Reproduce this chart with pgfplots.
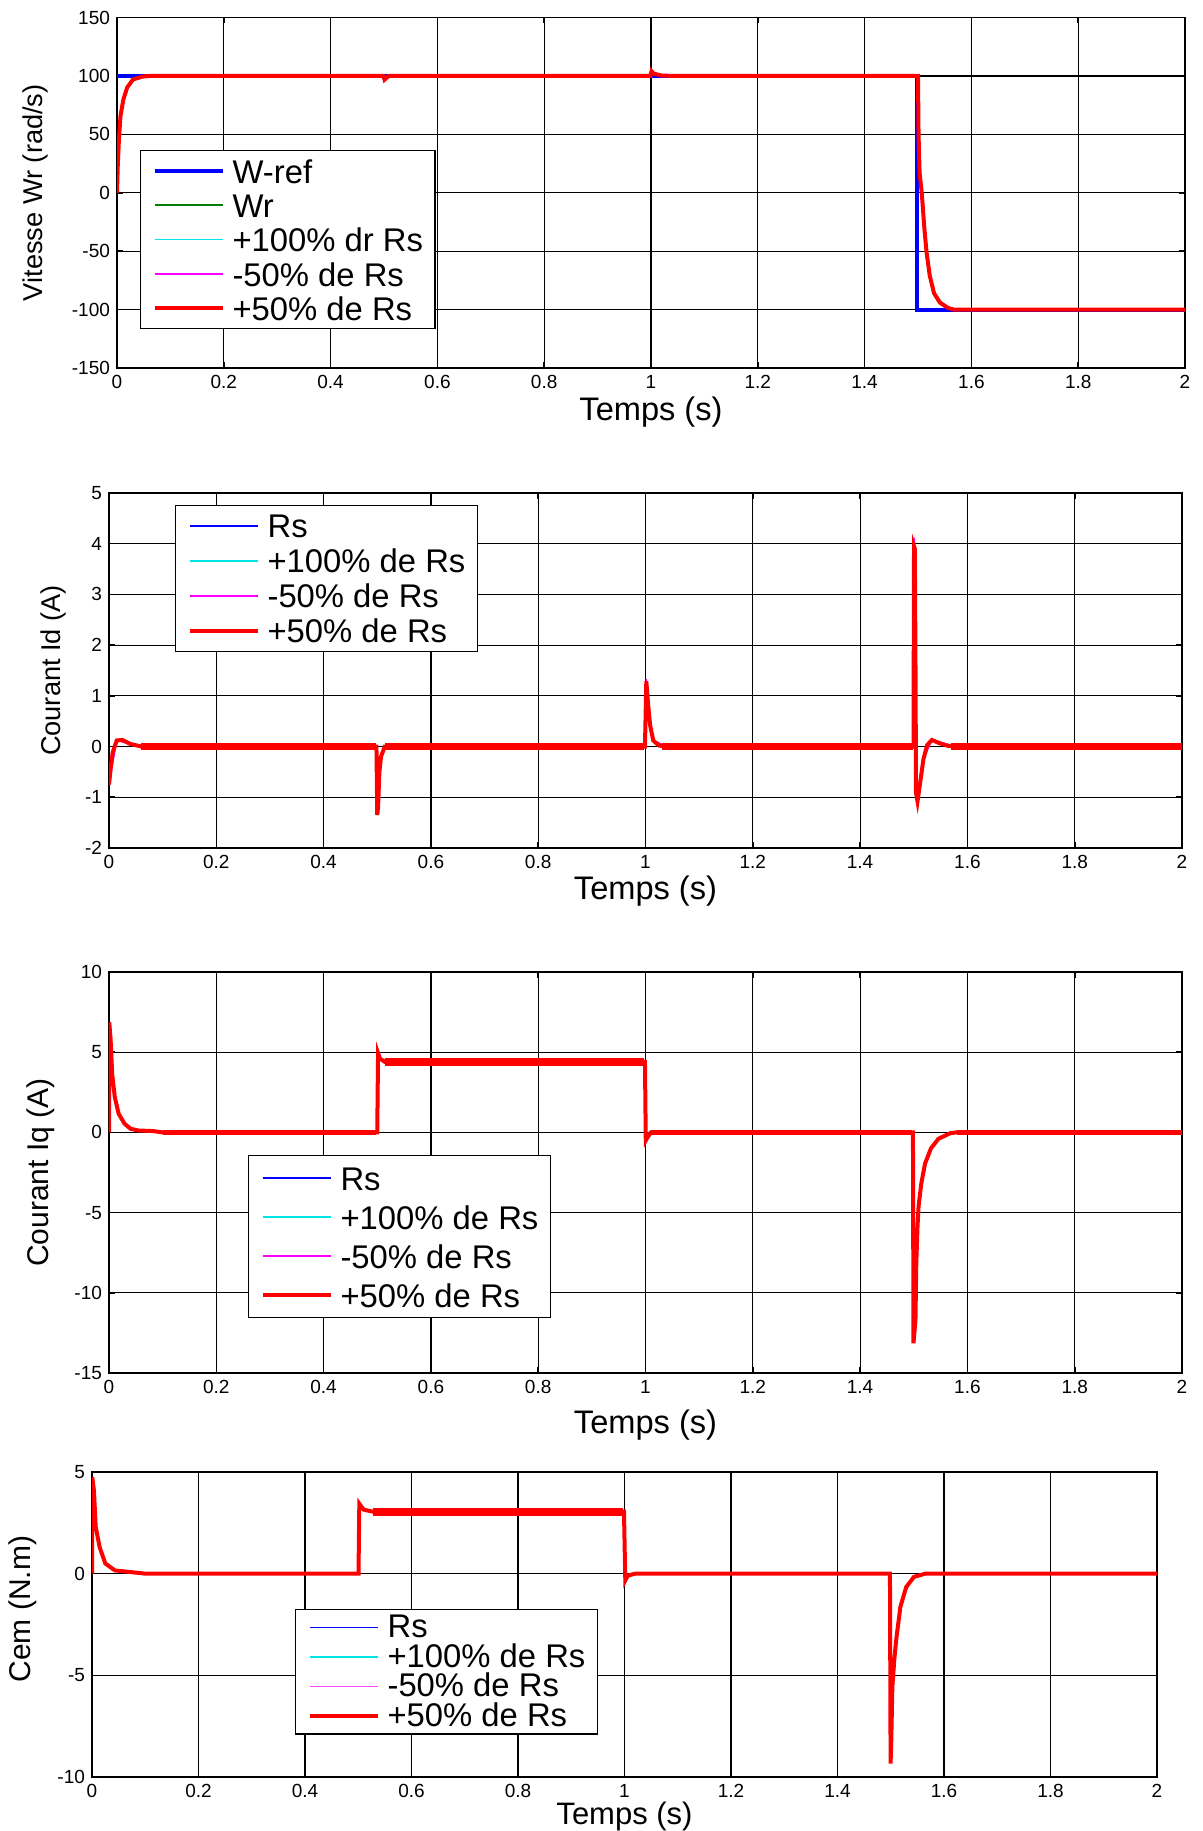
\documentclass[border=0pt]{standalone}
\usepackage{fontspec}
\setmainfont{Liberation Sans}
\usepackage{pgfplots}
\pgfplotsset{compat=1.18}
\definecolor{mblue}{RGB}{0,0,255}
\definecolor{mgreen}{RGB}{0,128,0}
\definecolor{mcyan}{RGB}{0,230,230}
\definecolor{mmag}{RGB}{255,0,255}
\definecolor{mred}{RGB}{255,0,0}

\pgfplotsset{
  matlab/.style={
    scale only axis,
    xmin=0, xmax=2,
    xtick={0,0.2,0.4,0.6,0.8,1,1.2,1.4,1.6,1.8,2},
    grid=major,
    major grid style={black, line width=0.6pt},
    axis line style={black, line width=0.6pt},
    tick align=inside,
    tick pos=both,
    major tick length=3pt,
    tick style={black, line width=0.8pt},
    ticklabel style={font=\fontsize{9.5}{11}\selectfont},
    /pgf/number format/assume math mode=true,
    xlabel={Temps (s)},
    label style={font=\fontsize{16.3}{18}\selectfont},
    legend cell align=left,
    legend image code/.code={\draw[##1] (0pt,0pt) -- (34pt,0pt);},
  },
  mleg/.style n args={4}{
    legend style={at={(axis description cs:#1,#2)}, anchor=north west,
      draw=black, fill=white, line width=0.6pt,
      font=\fontsize{16.4}{18}\selectfont,
      inner xsep=6pt, inner ysep=1.5pt, row sep=0pt, column sep=4pt,
      nodes={inner sep=0pt, text height=#3, text depth=#4}},
  },
}

\begin{document}
\begin{tikzpicture}
\useasboundingbox (0,0) rectangle (601.5pt,915.5pt);

% ---------- vitesse ----------
\begin{axis}[matlab,
  at={(58.5pt,731.5pt)}, anchor=south west,
  width=534pt, height=175.25pt,
  ymin=-150, ymax=150, ytick={-150,-100,...,150},
  ylabel={Vitesse Wr (rad/s)},
  ylabel style={at={(axis description cs:-0.0768,0.5)}, anchor=center, font=\fontsize{13.6}{16}\selectfont},
  xlabel style={at={(axis description cs:0.5,-0.1255)}, anchor=center},
  mleg={0.0215}{0.622}{14.8pt}{2.4pt},
]
\addplot[mblue, line width=2pt] coordinates {
  (0,100) (1.499,100) (1.499,-100) (2,-100)};
\addlegendentry{W-ref}
\addlegendimage{mgreen, line width=0.7pt}
\addlegendentry{Wr}
\addlegendimage{mcyan, line width=0.7pt}
\addlegendentry{+100\% dr Rs}
\addlegendimage{mmag, line width=0.7pt}
\addlegendentry{-50\% de Rs}
\addplot[mred, line width=2pt] coordinates {
  (0,0) (0.0014,22.6) (0.0036,45.6) (0.0065,65.6) (0.012,80) (0.019,90)
  (0.030,97) (0.048,99.4) (0.063,100) (0.499,100) (0.501,96.8) (0.505,98.5)
  (0.51,100) (0.999,100) (1.001,104) (1.005,102) (1.02,100.3) (1.04,100)
  (1.5,100) (1.501,50) (1.503,17) (1.507,0) (1.512,-31) (1.516,-51)
  (1.522,-71) (1.530,-86) (1.541,-94) (1.556,-98.6) (1.567,-100) (2,-100)};
\addlegendentry{+50\% de Rs}
\end{axis}

% ---------- Id ----------
\begin{axis}[matlab,
  at={(54.5pt,491.5pt)}, anchor=south west,
  width=536.5pt, height=177.5pt,
  ymin=-2, ymax=5, ytick={-2,-1,...,5},
  ylabel={Courant Id (A)},
  ylabel style={at={(axis description cs:-0.0522,0.5)}, anchor=center, font=\fontsize{13.6}{16}\selectfont},
  xlabel style={at={(axis description cs:0.5,-0.121)}, anchor=center},
  mleg={0.0615}{0.966}{14.25pt}{3.25pt},
]
\addlegendimage{mblue, line width=0.7pt}
\addlegendentry{Rs}
\addlegendimage{mcyan, line width=0.7pt}
\addlegendentry{+100\% de Rs}
\addplot[mmag, line width=0.7pt] coordinates {
  (0,-0.75) (0.0144,0.12) (0.061,0) (0.4985,0) (0.5,-1.35) (0.507,-0.2)
  (0.514,0) (0.999,0) (1.0015,1.33) (1.005,0.82) (1.0144,0.12) (1.04,0)
  (1.4995,0) (1.5005,4.12) (1.502,3.9) (1.5036,0.95) (1.504,-0.9)
  (1.507,-1.08) (1.518,-0.25) (1.5338,0.13) (1.58,0) (2,0)};
\addlegendentry{-50\% de Rs}
\addplot[mred, line width=3.5pt, forget plot, unbounded coords=jump] coordinates {
  (0.06,0) (0.497,0) (0.5,nan) (0.515,0) (0.998,0) (1,nan)
  (1.03,0) (1.498,0) (1.5,nan) (1.57,0) (2,0)};
\addplot[mred, line width=2pt] coordinates {
  (0,-0.75) (0.0036,-0.38) (0.007,-0.11) (0.0144,0.12) (0.025,0.13)
  (0.04,0.05) (0.061,0) (0.4985,0) (0.5,-1.35) (0.5015,-1.2) (0.504,-0.5)
  (0.507,-0.2) (0.514,0) (0.999,0) (1.0015,1.29) (1.005,0.82) (1.0086,0.42)
  (1.0144,0.12) (1.025,0.02) (1.04,0) (1.4995,0) (1.5005,3.95) (1.502,3.9)
  (1.5036,0.95) (1.504,-0.9) (1.507,-1.08) (1.512,-0.71) (1.518,-0.25)
  (1.525,0.03) (1.5338,0.13) (1.547,0.07) (1.565,0.01) (1.58,0) (2,0)};
\addlegendentry{+50\% de Rs}
\end{axis}

% ---------- Iq ----------
\begin{axis}[matlab,
  at={(54.5pt,229pt)}, anchor=south west,
  width=536.5pt, height=200.5pt,
  ymin=-15, ymax=10, ytick={-15,-10,...,10},
  ylabel={Courant Iq (A)},
  ylabel style={at={(axis description cs:-0.0634,0.5)}, anchor=center, font=\fontsize{15}{17}\selectfont},
  xlabel style={at={(axis description cs:0.5,-0.130)}, anchor=center},
  mleg={0.1295}{0.5436}{16pt}{3.5pt},
]
\addlegendimage{mblue, line width=0.7pt}
\addlegendentry{Rs}
\addlegendimage{mcyan, line width=0.7pt}
\addlegendentry{+100\% de Rs}
\addlegendimage{mmag, line width=0.7pt}
\addlegendentry{-50\% de Rs}
\addplot[mred, line width=2.5pt, forget plot, unbounded coords=jump] coordinates {
  (0.1,0) (0.498,0) (0.5,nan) (1.01,0) (1.497,0) (1.5,nan) (1.58,0) (2,0)};
\addplot[mred, line width=4pt, forget plot] coordinates {
  (0.515,4.4) (0.998,4.4)};
\addplot[mred, line width=2pt] coordinates {
  (0,0) (0.0005,6.87) (0.003,5.8) (0.006,3.6) (0.0108,2.2) (0.018,1.16)
  (0.029,0.54) (0.04,0.23) (0.054,0.12) (0.083,0.08) (0.1,0) (0.5,0)
  (0.5015,4.94) (0.505,4.6) (0.514,4.4) (0.999,4.4) (1.0005,-0.5)
  (1.003,-0.35) (1.01,0) (1.4985,0) (1.4995,-13.15) (1.5032,-11.7)
  (1.5047,-8.2) (1.507,-5.9) (1.509,-4.6) (1.514,-3.2) (1.521,-1.95)
  (1.532,-1.0) (1.546,-0.4) (1.568,-0.05) (1.58,0) (2,0)};
\addlegendentry{+50\% de Rs}
\end{axis}

% ---------- Cem ----------
\begin{axis}[matlab,
  at={(46pt,27pt)}, anchor=south west,
  width=532.5pt, height=152.5pt,
  ymin=-10, ymax=5, ytick={-10,-5,0,5},
  ylabel={Cem (N.m)},
  ylabel style={at={(axis description cs:-0.0648,0.55)}, anchor=center, font=\fontsize{15}{17}\selectfont},
  xlabel style={at={(axis description cs:0.5,-0.128)}, anchor=center, font=\fontsize{15.5}{17}\selectfont},
  mleg={0.1906}{0.551}{12.5pt}{2.3pt},
]
\addlegendimage{mblue, line width=0.7pt}
\addlegendentry{Rs}
\addlegendimage{mcyan, line width=0.7pt}
\addlegendentry{+100\% de Rs}
\addlegendimage{mmag!70, line width=0.9pt}
\addlegendentry{-50\% de Rs}
\addplot[mred, line width=4pt, forget plot] coordinates {
  (0.527,3.05) (0.998,3.05)};
\addplot[mred, line width=2pt] coordinates {
  (0,0) (0.0005,4.75) (0.0036,4.1) (0.007,2.3) (0.0144,1.3) (0.025,0.5)
  (0.043,0.16) (0.072,0.08) (0.1,0) (0.5005,0) (0.502,3.44) (0.51,3.15)
  (0.527,3.05) (0.999,3.05) (1.0015,-0.33) (1.006,-0.1) (1.02,0)
  (1.4985,0) (1.4997,-9.34) (1.501,-8.2) (1.503,-5.57) (1.5068,-4.18)
  (1.5105,-3.2) (1.518,-1.64) (1.529,-0.66) (1.5435,-0.16) (1.565,0) (2,0)};
\addlegendentry{+50\% de Rs}
\end{axis}
\end{tikzpicture}
\end{document}
